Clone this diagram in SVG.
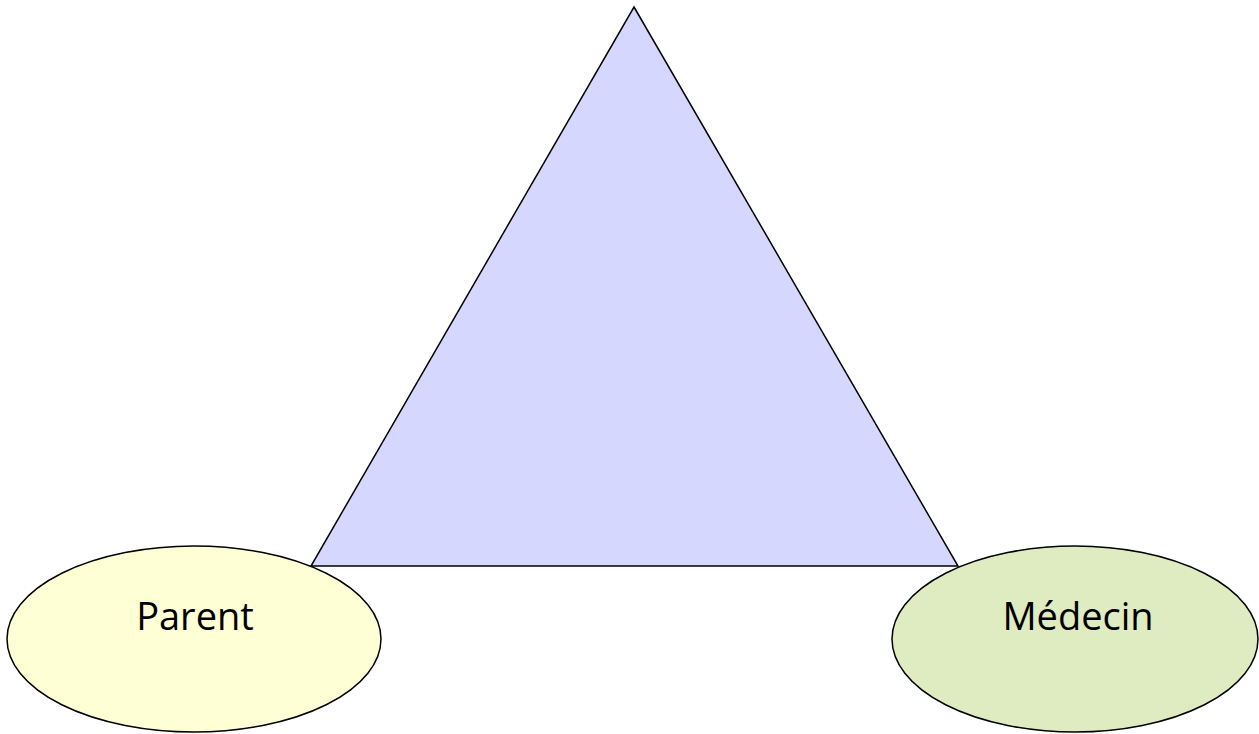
<svg xmlns="http://www.w3.org/2000/svg" width="1259" height="734" viewBox="0 0 1259 734">
<style>
.shape{stroke:#000;stroke-width:1.5}
.lbl{font-family:"Open Sans","Liberation Sans",Arial,sans-serif;font-size:38px;fill:#000;text-anchor:middle}
</style>
<rect width="1259" height="734" fill="#fff"/>
<g id="triangle">
<polygon class="shape" points="634,7 958,566 311,566" fill="#D5D7FE"/>
</g>
<g id="connectors"></g>
<g id="parent">
<ellipse class="shape" cx="194" cy="639" rx="187" ry="93" fill="#FFFFD6"/>
<text class="lbl" x="195" y="630">Parent</text>
</g>
<g id="medecin">
<ellipse class="shape" cx="1075" cy="639" rx="183" ry="93" fill="#DFEBC1"/>
<text class="lbl" x="1078" y="630">Médecin</text>
</g>
</svg>
